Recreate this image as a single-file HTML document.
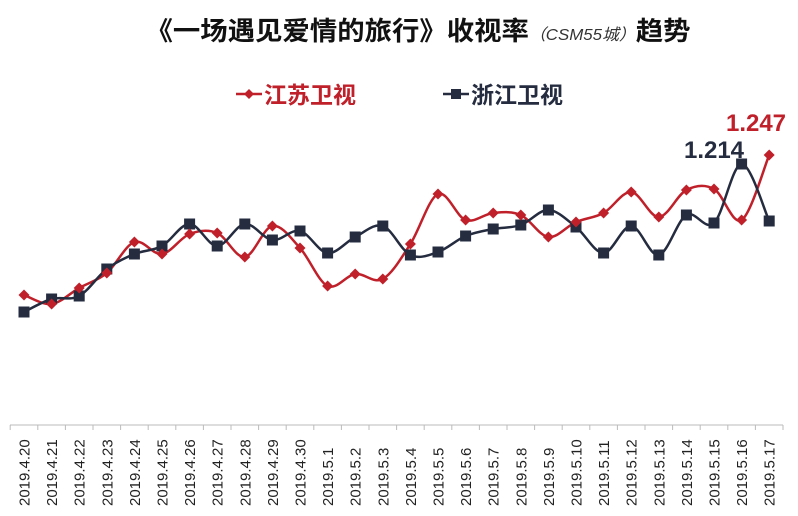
<!DOCTYPE html>
<html><head><meta charset="utf-8"><style>
body{margin:0;background:#fff;width:798px;height:516px;overflow:hidden}
svg{display:block}
text{font-family:"Liberation Sans","Noto Sans CJK SC",sans-serif}
</style></head><body>
<svg id="s" width="798" height="516" viewBox="0 0 798 516">
<text x="418" y="40" text-anchor="middle" font-size="26" font-weight="bold" fill="#111" textLength="545" lengthAdjust="spacingAndGlyphs">《一场遇见爱情的旅行》收视率<tspan font-size="16" font-weight="normal" font-style="italic" fill="#333">（CSM55城）</tspan>趋势</text>
<line x1="236" y1="94" x2="262" y2="94" stroke="#c0202a" stroke-width="2.5"/>
<path d="M249 89 L254 94 L249 99 L244 94Z" fill="#c0202a"/>
<text x="264" y="103" font-size="23" font-weight="bold" fill="#c0202a">江苏卫视</text>
<line x1="443" y1="94" x2="469" y2="94" stroke="#252c40" stroke-width="2.5"/>
<rect x="451" y="89" width="10" height="10" fill="#252c40"/>
<text x="471" y="103" font-size="23" font-weight="bold" fill="#252c40">浙江卫视</text>
<line x1="10" y1="425" x2="783" y2="425" stroke="#bbb" stroke-width="1"/>
<g id="ax"></g>
<path id="red" fill="none" stroke="#c0202a" stroke-width="2.5"/>
<path id="blu" fill="none" stroke="#252c40" stroke-width="2.5"/>
<g id="mk"></g>
<text x="714" y="158" text-anchor="middle" font-size="24" font-weight="bold" fill="#252c40">1.214</text>
<text x="756" y="131" text-anchor="middle" font-size="24" font-weight="bold" fill="#c0202a">1.247</text>
</svg>
<script>
var R=[295,304,288,273,242,254,234,233,257,226,248,286,274,279,244,194,220,213,215,237,222,213,192,217,190,189,220,155];
var B=[312,299,296,269,254,246,224,246,224,240,231,253,237,226,255,252,236,229,225,210,227,253,226,255,215,223,164,221];
var labels=["4.20","4.21","4.22","4.23","4.24","4.25","4.26","4.27","4.28","4.29","4.30","5.1","5.2","5.3","5.4","5.5","5.6","5.7","5.8","5.9","5.10","5.11","5.12","5.13","5.14","5.15","5.16","5.17"];
var dx=27.6,x0=24;
function X(i){return x0+dx*i}
function path(Y){var d="M"+X(0)+" "+Y[0];for(var i=0;i<Y.length-1;i++){var p0=Math.max(i-1,0),p3=Math.min(i+2,Y.length-1);var c1x=X(i)+(X(i+1)-X(p0))/6,c1y=Y[i]+(Y[i+1]-Y[p0])/6;var c2x=X(i+1)-(X(p3)-X(i))/6,c2y=Y[i+1]-(Y[p3]-Y[i])/6;d+=" C"+c1x+" "+c1y+" "+c2x+" "+c2y+" "+X(i+1)+" "+Y[i+1];}return d}
document.getElementById("red").setAttribute("d",path(R));
document.getElementById("blu").setAttribute("d",path(B));
var ns="http://www.w3.org/2000/svg",mk=document.getElementById("mk"),ax=document.getElementById("ax");
for(var i=0;i<28;i++){
 var r=document.createElementNS(ns,"rect");r.setAttribute("x",X(i)-5.5);r.setAttribute("y",B[i]-5.5);r.setAttribute("width",11);r.setAttribute("height",11);r.setAttribute("fill","#252c40");mk.appendChild(r);
 var p=document.createElementNS(ns,"path");var x=X(i),y=R[i];p.setAttribute("d","M"+x+" "+(y-5.5)+" L"+(x+5.5)+" "+y+" L"+x+" "+(y+5.5)+" L"+(x-5.5)+" "+y+"Z");p.setAttribute("fill","#c0202a");mk.appendChild(p);
 var t=document.createElementNS(ns,"text");t.setAttribute("transform","translate("+(x+5.5)+",506) rotate(-90)");t.setAttribute("font-size","15");t.setAttribute("fill","#222");t.textContent="2019."+labels[i];ax.appendChild(t);
}
for(var i=0;i<=28;i++){var l=document.createElementNS(ns,"line");var x=x0-dx/2+dx*i;l.setAttribute("x1",x);l.setAttribute("x2",x);l.setAttribute("y1",425);l.setAttribute("y2",430);l.setAttribute("stroke","#bbb");ax.appendChild(l);}
</script>
</body></html>
